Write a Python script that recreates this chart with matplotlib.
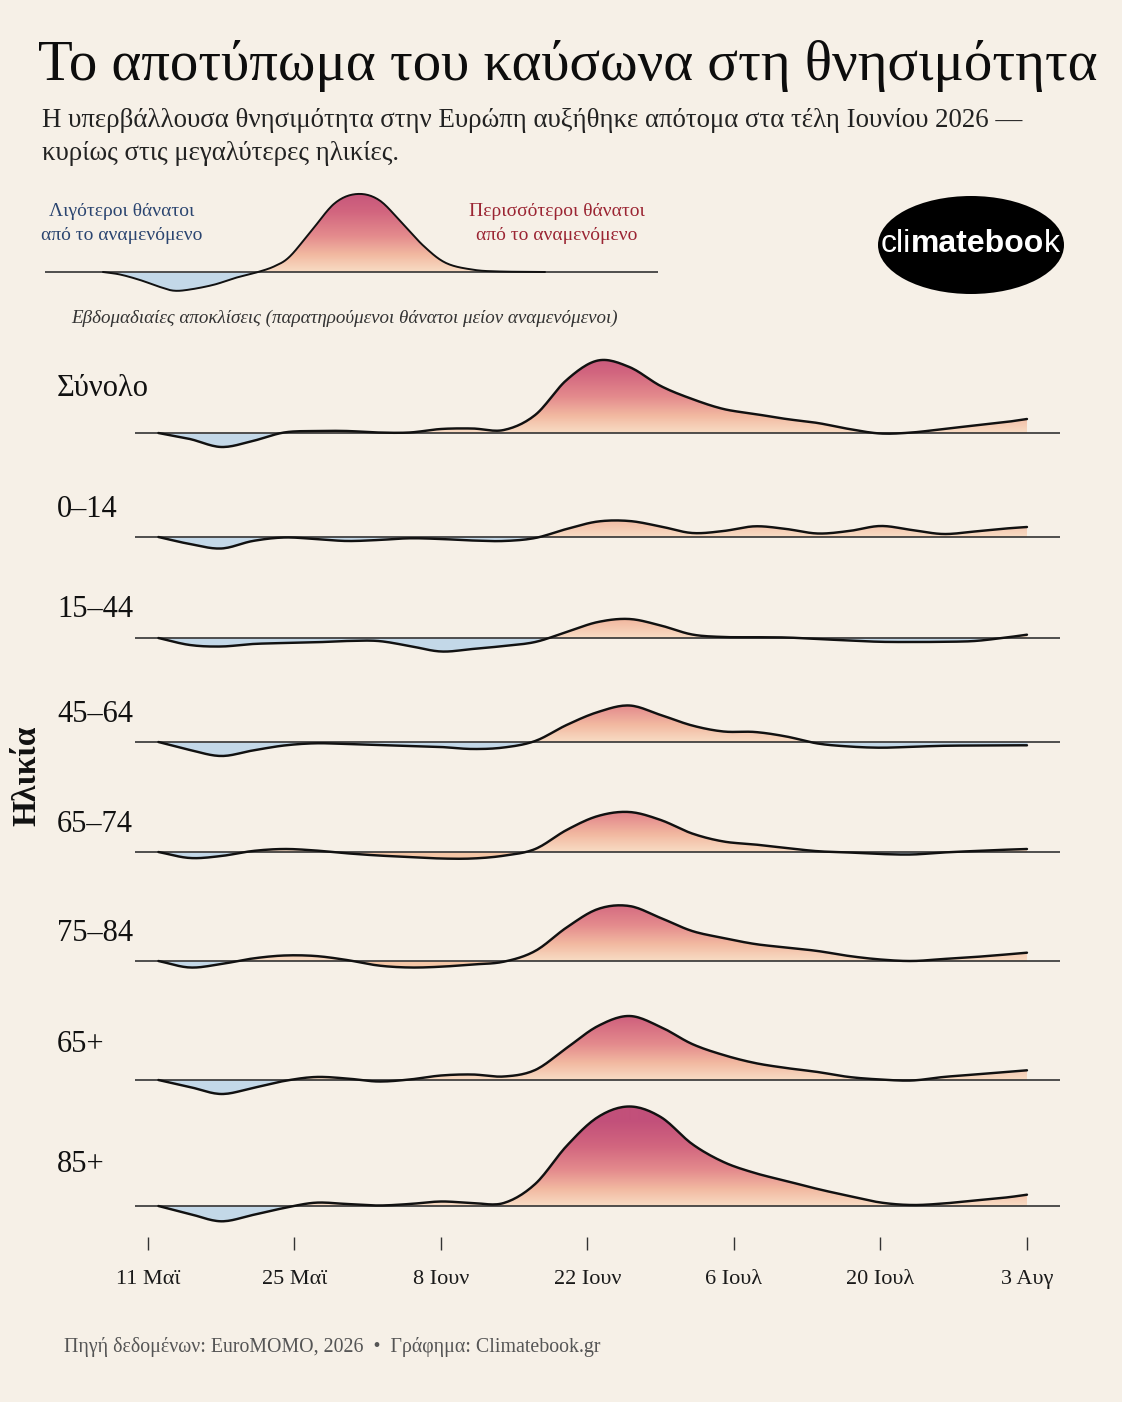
import matplotlib
matplotlib.use("Agg")
import numpy as np
import matplotlib.pyplot as plt
import matplotlib.dates as mdates
from matplotlib.colors import LinearSegmentedColormap
from matplotlib.patches import Ellipse

# ---------------- data ----------------
dates = ["2026-05-12", "2026-05-15", "2026-05-18", "2026-05-21", "2026-05-24",
         "2026-05-27", "2026-05-30", "2026-06-02", "2026-06-05", "2026-06-08",
         "2026-06-11", "2026-06-14", "2026-06-17", "2026-06-20", "2026-06-23",
         "2026-06-26", "2026-06-29", "2026-07-02", "2026-07-05", "2026-07-08",
         "2026-07-11", "2026-07-14", "2026-07-17", "2026-07-20", "2026-07-23",
         "2026-07-26", "2026-07-29", "2026-08-01", "2026-08-03"]

groups = ["Σύνολο", "0–14", "15–44", "45–64", "65–74", "75–84", "65+", "85+"]

total = [0, -6, -14, -8, 0.5, 2, 2, 0.5, 0.5, 4, 4.5, 3, 18, 53, 72.5, 66, 47, 34,
         24, 19, 14, 10, 4, -0.5, 0.5, 4, 7.5, 11, 14]
age_0_14 = [0, -7, -11.5, -4, -0.5, -2, -4, -3, -1.3, -2, -3.5, -4, -1, 8, 15.5, 16,
            10.5, 4, 6, 10.7, 8, 3.5, 6, 11, 7, 3, 5.5, 8.5, 10]
age_15_44 = [0, -7, -8.5, -6, -5, -4.3, -3, -3, -8, -13.5, -11, -8, -4, 6, 16, 19,
             12.5, 3.5, 1, 0.8, 0.5, -1, -2.5, -3.8, -4, -3.8, -3, 0.5, 3.3]
age_45_64 = [0, -8, -14, -8.5, -3.5, -1.3, -2, -3, -4, -5, -7, -5.5, 1, 17, 30, 36.5,
             27, 16.5, 10.5, 10, 5.5, -1.5, -4.5, -5.7, -4.8, -3.8, -3.5, -3.3, -3.3]
age_65_74 = [0, -6, -4, 1, 3, 1.5, -1.3, -3.5, -5, -6.5, -6.5, -3.7, 3, 22, 36, 40,
             32, 18.5, 10.5, 7.5, 4, 0.8, -0.5, -2, -2.5, -0.5, 1, 2.3, 3]
age_75_84 = [0, -6.5, -3, 2.5, 5.5, 5, 1, -4.5, -6.5, -5.7, -3.5, -0.7, 10, 33.5, 52,
             55, 43, 30, 23, 17, 13.5, 10, 5, 1.5, 0, 2, 4, 6.5, 8.3]
age_65_plus = [0, -7, -14, -8, -1, 3, 1.5, -1.5, 0.5, 4.5, 5.5, 3.5, 10, 32, 54, 64,
               53, 36, 25, 17, 12, 8, 3, 0.5, -0.5, 3, 5.5, 8, 9.7]
age_85_plus = [0, -8, -15.3, -9, -2, 3.3, 2, 0.5, 2, 4.5, 3, 3, 22, 60, 89, 99.5,
               89, 62, 44, 33, 25, 17, 10, 3.5, 1, 2.5, 5.5, 8.5, 11.3]
series = [total, age_0_14, age_15_44, age_45_64, age_65_74, age_75_84,
          age_65_plus, age_85_plus]

# negative stretches that the original shades warm instead of blue
warm_negative_spans = {"65–74": ("2026-05-29", "2026-06-17"),
                       "75–84": ("2026-05-29", "2026-06-17")}

tick_dates = ["2026-05-11", "2026-05-25", "2026-06-08", "2026-06-22",
              "2026-07-06", "2026-07-20", "2026-08-03"]
tick_labels = ["11 Μαϊ", "25 Μαϊ", "8 Ιουν", "22 Ιουν", "6 Ιουλ", "20 Ιουλ", "3 Αυγ"]

# schematic legend curve (arbitrary units)
legend_x = [58, 75, 95, 115, 129, 145, 169, 190, 213, 230, 245, 267, 290, 312, 334,
            357, 379, 401, 428, 455, 500]
legend_v = [0, -2.5, -8, -15, -18.7, -17.5, -12.7, -6, 0, 6, 15.7, 42, 69, 78, 72,
            49, 25.7, 9, 2.3, 0.5, 0]

# ---------------- layout / style ----------------
W, H = 1122, 1402
BG = "#f6f0e7"
plt.rcParams["font.family"] = ["Liberation Serif", "DejaVu Serif"]

ridge_base_px = [433, 537, 638, 742, 852, 961, 1080, 1206]
label_base_px = [396, 517, 617, 722, 832, 941, 1052, 1172]
AX_LEFT, AX_RIGHT, AX_TOP, AX_BOTTOM = 135, 1060, 330, 1237

cmap_warm = LinearSegmentedColormap.from_list(
    "warm", [(0.0, "#f8dcc4"), (0.2, "#f2b9a1"), (0.42, "#e48b8d"),
             (0.7, "#d2667f"), (1.0, "#c2507a")])
BLUE = "#c3d8e8"
HEIGHT_NORM = 85.0


def fx(x):
    return x / W


def fy(y):
    return 1 - y / H


def smooth(x, y, n=14):
    x = np.asarray(x, float)
    y = np.asarray(y, float)
    P = np.column_stack([x, y])
    P = np.vstack([2 * P[0] - P[1], P, 2 * P[-1] - P[-2]])
    out = []
    t = np.linspace(0, 1, n, endpoint=False)[:, None]
    for i in range(1, len(P) - 2):
        p0, p1, p2, p3 = P[i - 1], P[i], P[i + 1], P[i + 2]
        seg = 0.5 * ((2 * p1) + (-p0 + p2) * t + (2 * p0 - 5 * p1 + 4 * p2 - p3) * t ** 2
                     + (-p0 + 3 * p1 - 3 * p2 + p3) * t ** 3)
        out.append(seg)
    out.append(P[-2][None, :])
    S = np.vstack(out)
    return S[:, 0], S[:, 1]


def draw_ridge(ax, x, v, base, warm_mask=None, lw=1.75):
    xs, vs = smooth(x, v)
    pos = np.maximum(vs, 0)
    neg = np.minimum(vs, 0)
    poly = ax.fill_between(xs, base, base + pos, facecolor="none", edgecolor="none")
    top = max(pos.max(), 1e-6)
    hh = np.linspace(0, top, 300)
    img = cmap_warm(np.clip(hh / HEIGHT_NORM, 0, 1))[:, None, :]
    img = np.repeat(img, 2, axis=1)
    im = ax.imshow(img, extent=[xs.min(), xs.max(), base, base + top], origin="lower",
                   aspect="auto", interpolation="bilinear", zorder=2)
    im.set_clip_path(poly.get_paths()[0], transform=ax.transData)
    if warm_mask is None:
        ax.fill_between(xs, base, base + neg, color=BLUE, lw=0, zorder=2)
    else:
        wm = warm_mask(xs)
        ax.fill_between(xs, base, base + np.where(wm, 0, neg), color=BLUE, lw=0, zorder=2)
        ax.fill_between(xs, base, base + np.where(wm, neg, 0), color="#f4c6a6", lw=0, zorder=2)
    ax.axhline(base, color="#333333", lw=1.2, zorder=3)
    ax.plot(xs, base + vs, color="#111111", lw=lw, zorder=4, solid_capstyle="round")


fig = plt.figure(figsize=(W / 100, H / 100), dpi=100, facecolor=BG)

# ---------------- main ridges ----------------
ax = fig.add_axes([fx(AX_LEFT), fy(AX_BOTTOM), (AX_RIGHT - AX_LEFT) / W,
                   (AX_BOTTOM - AX_TOP) / H])
ax.set_facecolor("none")
xnum = mdates.date2num(np.array(dates, dtype="datetime64[D]"))
origin = mdates.date2num(np.datetime64("2026-05-11"))
px_per_day = 10.464
ax.set_xlim(origin - (148 - AX_LEFT) / px_per_day, origin + (AX_RIGHT - 148) / px_per_day)
ax.set_ylim(0, AX_BOTTOM - AX_TOP)

for g, vals, bpx in zip(groups, series, ridge_base_px):
    base = AX_BOTTOM - bpx
    mask = None
    if g in warm_negative_spans:
        a, b = mdates.date2num(np.array(warm_negative_spans[g], dtype="datetime64[D]"))
        mask = (lambda aa, bb: (lambda xx: (xx >= aa) & (xx <= bb)))(a, b)
    draw_ridge(ax, xnum, vals, base, warm_mask=mask)

ax.set_xticks(mdates.date2num(np.array(tick_dates, dtype="datetime64[D]")))
ax.set_xticklabels(tick_labels)
ax.tick_params(axis="x", direction="out", length=9, width=1.0, color="#333333",
               pad=15, labelsize=16, labelcolor="#1a1a1a")
ax.set_yticks([])
for s in ax.spines.values():
    s.set_visible(False)

for g, lpx in zip(groups, label_base_px):
    fig.text(fx(57), fy(lpx), g, fontsize=22, va="baseline", ha="left", color="#111111")

fig.text(fx(27), fy(776), "Ηλικία", rotation=90, fontsize=24, fontweight="bold",
         va="center", ha="center", color="#111111")

# ---------------- legend ----------------
lax = fig.add_axes([fx(45), fy(300), 613 / W, 120 / H])
lax.set_facecolor("none")
lax.set_xlim(0, 613)
lax.set_ylim(0, 120)
draw_ridge(lax, legend_x, legend_v, 28, lw=1.4)
lax.axis("off")

for txt, yy in [("Λιγότεροι θάνατοι", 212), ("από το αναμενόμενο", 236)]:
    fig.text(fx(122), fy(yy), txt, fontsize=14, color="#2b4570", ha="center", va="center")
for txt, yy in [("Περισσότεροι θάνατοι", 212), ("από το αναμενόμενο", 236)]:
    fig.text(fx(557), fy(yy), txt, fontsize=14, color="#9b2533", ha="center", va="center")
fig.text(fx(345), fy(318),
         "Εβδομαδιαίες αποκλίσεις (παρατηρούμενοι θάνατοι μείον αναμενόμενοι)",
         fontsize=13.7, style="italic", color="#333333", ha="center", va="center")

# ---------------- logo ----------------
fig.patches.append(Ellipse((fx(971), fy(245)), 186 / W, 98 / H, transform=fig.transFigure,
                           facecolor="black", edgecolor="none"))
renderer = fig.canvas.get_renderer()
parts = [("cli", "normal"), ("mateboo", "bold"), ("k", "normal")]
logo_texts = []
for txt, wt in parts:
    t = fig.text(0, fy(244), txt, fontsize=23, fontweight=wt, color="white",
                 family=["Liberation Sans", "DejaVu Sans"], va="center", ha="left")
    logo_texts.append(t)
widths = [t.get_window_extent(renderer).width for t in logo_texts]
xcur = 970 - sum(widths) / 2
for t, w in zip(logo_texts, widths):
    t.set_x(fx(xcur))
    xcur += w

# ---------------- titles ----------------
title = fig.text(fx(38), fy(80), "Το αποτύπωμα του καύσωνα στη θνησιμότητα",
                 fontsize=46, va="baseline", ha="left", color="#0d0d0d")
w = title.get_window_extent(renderer).width
title.set_fontsize(46 * 1059 / w)

sub1 = fig.text(fx(42), fy(127),
                "Η υπερβάλλουσα θνησιμότητα στην Ευρώπη αυξήθηκε απότομα στα τέλη Ιουνίου 2026 —",
                fontsize=19, va="baseline", ha="left", color="#222222")
w = sub1.get_window_extent(renderer).width
fs = 19 * 983 / w
sub1.set_fontsize(fs)
fig.text(fx(42), fy(160), "κυρίως στις μεγαλύτερες ηλικίες.", fontsize=fs,
         va="baseline", ha="left", color="#222222")

fig.text(fx(64), fy(1347), "Πηγή δεδομένων: EuroMOMO, 2026  •  Γράφημα: Climatebook.gr",
         fontsize=14.3, va="center", ha="left", color="#555555")

fig.savefig("out.png", dpi=100, facecolor=BG)
